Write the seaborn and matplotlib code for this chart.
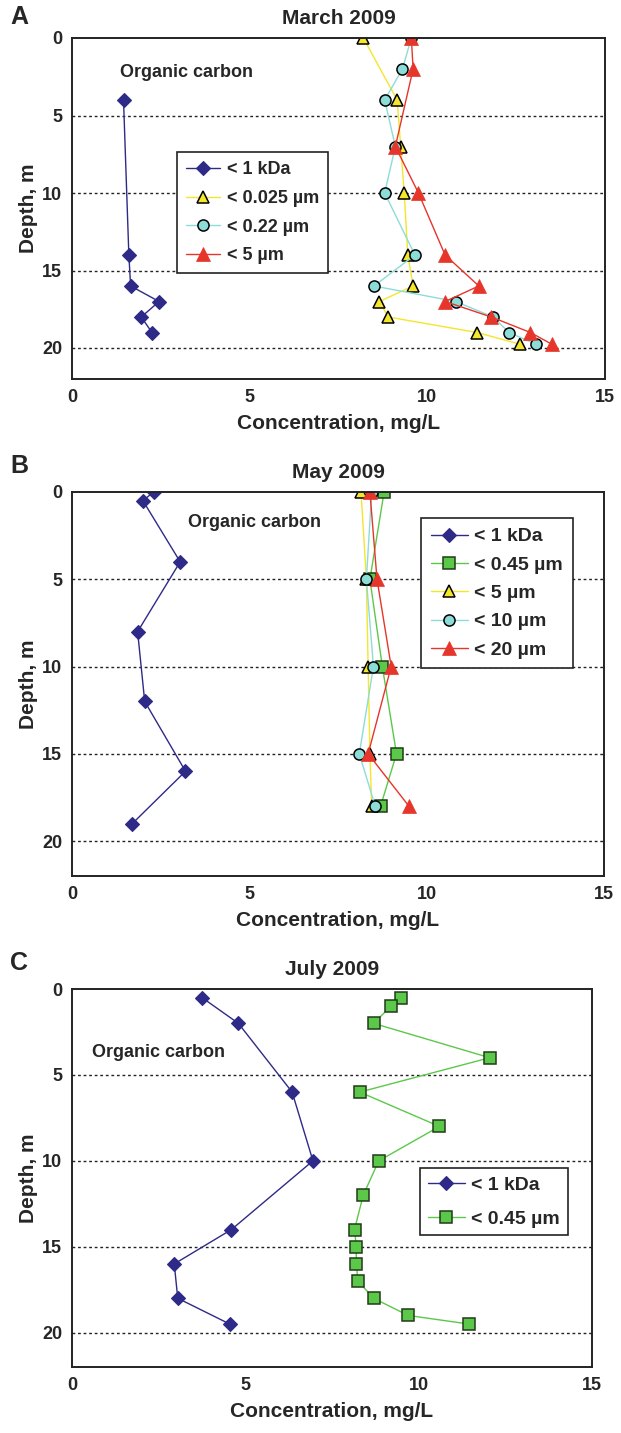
import numpy as np
import pandas as pd
import matplotlib
matplotlib.use("Agg")
import matplotlib.pyplot as plt
import seaborn as sns

sns.set_theme(style="white")
plt.rcParams['font.family'] = ['Liberation Sans', 'DejaVu Sans']
plt.rcParams['font.weight'] = 'bold'

# ---------------- data ----------------
# Panel A: March 2009
a_kda_depth = [4, 14, 16, 17, 18, 19]
a_kda_conc = [1.45, 1.6, 1.65, 2.45, 1.95, 2.25]
a_025_depth = [0, 4, 7, 10, 14, 16, 17, 18, 19, 19.75]
a_025_conc = [8.2, 9.15, 9.25, 9.35, 9.45, 9.6, 8.65, 8.9, 11.4, 12.6]
a_022_depth = [0, 2, 4, 7, 10, 14, 16, 17, 18, 19, 19.75]
a_022_conc = [9.55, 9.3, 8.8, 9.1, 8.8, 9.65, 8.5, 10.8, 11.85, 12.3, 13.05]
a_5_depth = [0, 2, 7, 10, 14, 16, 17, 18, 19, 19.75]
a_5_conc = [9.55, 9.6, 9.1, 9.75, 10.5, 11.45, 10.5, 11.8, 12.9, 13.5]

# Panel B: May 2009
b_kda_depth = [0, 0.5, 4, 8, 12, 16, 19]
b_kda_conc = [2.3, 2.0, 3.05, 1.85, 2.05, 3.2, 1.7]
b_depth = [0, 5, 10, 15, 18]
b_045_conc = [8.8, 8.4, 8.75, 9.15, 8.7]
b_5_conc = [8.15, 8.3, 8.35, 8.4, 8.45]
b_10_conc = [8.45, 8.3, 8.5, 8.1, 8.55]
b_20_conc = [8.4, 8.6, 9.0, 8.35, 9.5]

# Panel C: July 2009
c_kda_depth = [0.5, 2, 6, 10, 14, 16, 18, 19.5]
c_kda_conc = [3.75, 4.8, 6.35, 6.95, 4.6, 2.95, 3.05, 4.55]
c_045_depth = [0.5, 1, 2, 4, 6, 8, 10, 12, 14, 15, 16, 17, 18, 19, 19.5]
c_045_conc = [9.5, 9.2, 8.7, 12.05, 8.3, 10.6, 8.85, 8.4, 8.15, 8.2, 8.2, 8.25, 8.7, 9.7, 11.45]

titles = ["March 2009", "May 2009", "July 2009"]
letters = ["A", "B", "C"]
x_ticks = [0, 5, 10, 15]
y_ticks = [0, 5, 10, 15, 20]

# ---------------- styles ----------------
NAVY = '#2E2A88'
YEL = '#F4E62C'
CYAN = '#8CDCD8'
RED = '#E6352B'
GREEN = '#5CC84A'

sty = {
    '< 1 kDa': dict(color=NAVY, marker='D', markersize=7.5, markerfacecolor=NAVY, markeredgecolor=NAVY, markeredgewidth=0.8),
    'yel': dict(color=YEL, marker='^', markersize=9, markerfacecolor=YEL, markeredgecolor='black', markeredgewidth=1.1),
    'cyan': dict(color=CYAN, marker='o', markersize=8, markerfacecolor=CYAN, markeredgecolor='black', markeredgewidth=1.1),
    'red': dict(color=RED, marker='^', markersize=10, markerfacecolor=RED, markeredgecolor=RED, markeredgewidth=0.5),
    'green': dict(color=GREEN, marker='s', markersize=8, markerfacecolor=GREEN, markeredgecolor='#1F3A18', markeredgewidth=1.1),
}

W, H = 621, 1433
fig = plt.figure(figsize=(W / 100, H / 100), dpi=100)

def axbox(l, r, t, b):
    return [l / W, 1 - b / H, (r - l) / W, (b - t) / H]

ax_a = fig.add_axes(axbox(72, 605, 38, 379))
ax_b = fig.add_axes(axbox(72, 604, 492, 876))
ax_c = fig.add_axes(axbox(72, 592, 989, 1367))


def draw(ax, x, y, label, key):
    df = pd.DataFrame({'conc': x, 'depth': y})
    sns.lineplot(data=df, x='conc', y='depth', sort=False, estimator=None,
                 ax=ax, label=label, linewidth=1.0, **sty[key])


draw(ax_a, a_kda_conc, a_kda_depth, '< 1 kDa', '< 1 kDa')
draw(ax_a, a_025_conc, a_025_depth, '< 0.025 µm', 'yel')
draw(ax_a, a_022_conc, a_022_depth, '< 0.22 µm', 'cyan')
draw(ax_a, a_5_conc, a_5_depth, '< 5 µm', 'red')

draw(ax_b, b_kda_conc, b_kda_depth, '< 1 kDa', '< 1 kDa')
draw(ax_b, b_045_conc, b_depth, '< 0.45 µm', 'green')
draw(ax_b, b_5_conc, b_depth, '< 5 µm', 'yel')
draw(ax_b, b_10_conc, b_depth, '< 10 µm', 'cyan')
draw(ax_b, b_20_conc, b_depth, '< 20 µm', 'red')

draw(ax_c, c_kda_conc, c_kda_depth, '< 1 kDa', '< 1 kDa')
draw(ax_c, c_045_conc, c_045_depth, '< 0.45 µm', 'green')

legend_pos = [(0.197, 0.665), (0.656, 0.932), (0.669, 0.526)]
legend_font = [13, 14, 14]
legend_spacing = [0.65, 0.55, 0.85]
legend_borderpad = [0.5, 0.5, 0.4]
oc_pos = [(0.09, 0.898), (0.218, 0.921), (0.038, 0.833)]
letter_y = [17, 466, 963]

for i, ax in enumerate([ax_a, ax_b, ax_c]):
    ax.set_xlim(0, 15)
    ax.set_ylim(22, 0)
    ax.set_xticks(x_ticks)
    ax.set_yticks(y_ticks)
    ax.tick_params(axis='both', length=0, labelsize=13, pad=7)
    for t in ax.get_xticklabels() + ax.get_yticklabels():
        t.set_fontweight('bold')
    ax.set_xlabel('Concentration, mg/L', fontsize=15, fontweight='bold', labelpad=6)
    ax.set_ylabel('Depth, m', fontsize=15, fontweight='bold', labelpad=3)
    ax.set_title(titles[i], fontsize=15, fontweight='bold', pad=10)
    for yv in [5, 10, 15, 20]:
        ax.axhline(yv, color='#222222', linestyle=(0, (2, 2)), linewidth=1.0, zorder=0)
    for sp in ax.spines.values():
        sp.set_color('#222222')
        sp.set_linewidth(1.4)
    ax.grid(False)
    leg = ax.legend(loc='upper left', bbox_to_anchor=legend_pos[i], borderaxespad=0, frameon=True,
                    fancybox=False, edgecolor='#222222', framealpha=1,
                    borderpad=legend_borderpad[i],
                    handlelength=1.9, handletextpad=0.35, labelspacing=legend_spacing[i],
                    prop={'size': legend_font[i], 'weight': 'bold'})
    leg.get_frame().set_linewidth(1.2)
    ax.text(oc_pos[i][0], oc_pos[i][1], 'Organic carbon', transform=ax.transAxes, fontsize=13,
            fontweight='bold', va='center', ha='left')
    fig.text(10 / W, 1 - letter_y[i] / H, letters[i], fontsize=18, fontweight='bold',
             va='center', ha='left')

fig.savefig('out.png', dpi=100)
